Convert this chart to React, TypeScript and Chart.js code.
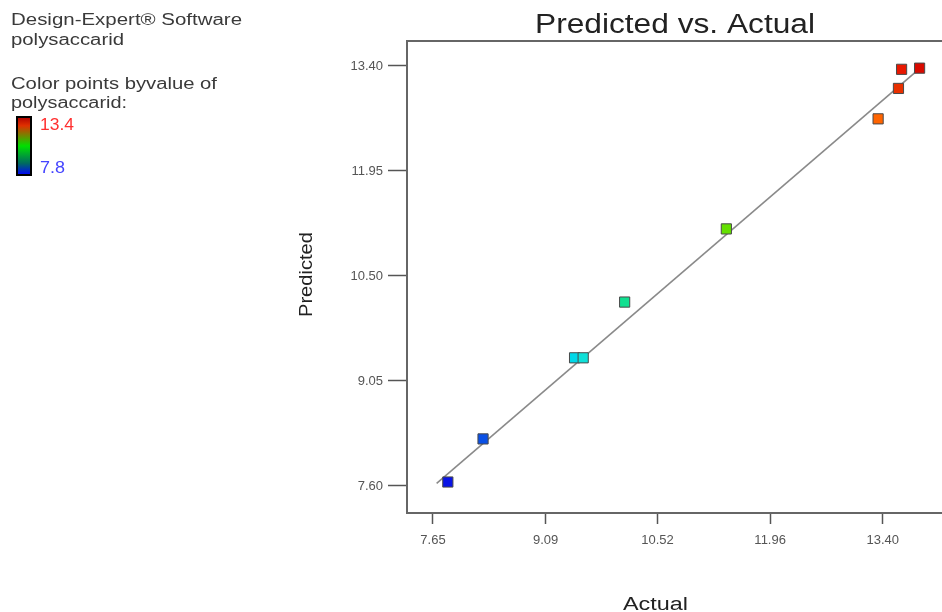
import React, { useEffect, useRef } from "react";
import { Chart, registerables } from "chart.js";

Chart.register(...registerables);

// Data
const actual = [7.84, 8.29, 9.46, 9.57, 10.10, 11.40, 13.34, 13.60, 13.64, 13.87];
const predicted = [7.655, 8.25, 9.37, 9.37, 10.14, 11.15, 12.67, 13.09, 13.354, 13.37];
const pointColors = [
  "#0a14e6", "#0a50e6", "#00d8e8", "#10e0d8", "#10e090",
  "#64e000", "#ff6400", "#e83000", "#e81800", "#d80a00",
];
const fitLineX = [7.697, 13.851];
const fitLineY = [7.637, 13.345];

const xTicks = [7.65, 9.09, 10.52, 11.96, 13.4];
const xTickLabels = ["7.65", "9.09", "10.52", "11.96", "13.40"];
const yTicks = [7.6, 9.05, 10.5, 11.95, 13.4];
const yTickLabels = ["7.60", "9.05", "10.50", "11.95", "13.40"];

const colorMax = "13.4";
const colorMin = "7.8";

const FONT = '"Liberation Sans", Arial, sans-serif';

function drawText(
  ctx: CanvasRenderingContext2D,
  text: string,
  x: number,
  y: number,
  size: number,
  color: string,
  width: number,
  rotate = 0
) {
  ctx.save();
  ctx.font = `${size}px ${FONT}`;
  ctx.fillStyle = color;
  ctx.textBaseline = "alphabetic";
  ctx.textAlign = "left";
  const w = ctx.measureText(text).width;
  ctx.translate(x, y);
  if (rotate) ctx.rotate(rotate);
  ctx.scale(width / w, 1);
  ctx.fillText(text, 0, 0);
  ctx.restore();
}

const decorPlugin = {
  id: "decor",
  afterDraw(chart: any) {
    const ctx: CanvasRenderingContext2D = chart.ctx;
    const a = chart.chartArea;
    // top frame line
    ctx.save();
    ctx.strokeStyle = "#666";
    ctx.lineWidth = 2;
    ctx.beginPath();
    ctx.moveTo(a.left - 1, a.top);
    ctx.lineTo(a.right + 10, a.top);
    ctx.stroke();
    ctx.restore();

    // title and axis titles
    drawText(ctx, "Predicted vs. Actual", 535, 33, 27, "#222", 280);
    drawText(ctx, "Actual", 623, 610, 18, "#222", 65);
    drawText(ctx, "Predicted", 312, 317, 18, "#222", 85, -Math.PI / 2);

    // left annotation
    drawText(ctx, "Design-Expert\u00AE Software", 11, 25, 16, "#3a3a3a", 231);
    drawText(ctx, "polysaccarid", 11, 45, 16, "#3a3a3a", 113);
    drawText(ctx, "Color points byvalue of", 11, 89, 16, "#3a3a3a", 206);
    drawText(ctx, "polysaccarid:", 11, 108, 16, "#3a3a3a", 116);
    drawText(ctx, colorMax, 40, 130, 17, "#ff3030", 34);
    drawText(ctx, colorMin, 40, 173, 17, "#4444ff", 25);

    // color bar
    ctx.save();
    const g = ctx.createLinearGradient(0, 117, 0, 175);
    g.addColorStop(0, "#b00000");
    g.addColorStop(0.15, "#e03000");
    g.addColorStop(0.5, "#00e000");
    g.addColorStop(0.8, "#006a60");
    g.addColorStop(1, "#0000ff");
    ctx.fillStyle = g;
    ctx.fillRect(17, 117, 14, 58);
    ctx.strokeStyle = "#000";
    ctx.lineWidth = 2;
    ctx.strokeRect(17, 117, 14, 58);
    ctx.restore();
  },
};

export default function App() {
  const ref = useRef<HTMLCanvasElement | null>(null);

  useEffect(() => {
    if (!ref.current) return;
    const chart = new Chart(ref.current, {
      type: "scatter",
      data: {
        datasets: [
          {
            label: "points",
            data: actual.map((x, i) => ({ x, y: predicted[i] })),
            pointStyle: "rect",
            pointRadius: 7.2,
            pointHoverRadius: 7.2,
            pointBackgroundColor: pointColors,
            pointBorderColor: "#4a4a4a",
            pointBorderWidth: 1,
          },
          {
            label: "fit",
            data: fitLineX.map((x, i) => ({ x, y: fitLineY[i] })),
            showLine: true,
            pointRadius: 0,
            borderColor: "#8a8a8a",
            borderWidth: 1.6,
          },
        ],
      },
      options: {
        animation: false,
        responsive: false,
        devicePixelRatio: 1,
        layout: { padding: { left: 0, right: 0, top: 41, bottom: 0 } },
        plugins: {
          legend: { display: false },
          tooltip: { enabled: false },
          title: { display: false },
        },
        scales: {
          x: {
            type: "linear",
            min: 7.318,
            max: 14.154,
            afterBuildTicks: (s: any) => {
              s.ticks = xTicks.map((v) => ({ value: v }));
            },
            afterFit: (s: any) => {
              s.height = 99;
              s.paddingLeft = 0;
              s.paddingRight = 0;
            },
            ticks: {
              autoSkip: false,
              maxRotation: 0,
              padding: 9,
              color: "#555",
              font: { family: FONT, size: 13 },
              callback: (v: any) => {
                const i = xTicks.findIndex((t) => Math.abs(t - v) < 1e-6);
                return i >= 0 ? xTickLabels[i] : "";
              },
            },
            grid: {
              drawOnChartArea: false,
              drawTicks: true,
              tickLength: 11,
              tickWidth: 1.5,
              tickColor: "#555",
            },
            border: { display: true, color: "#666", width: 2 },
          },
          y: {
            type: "linear",
            min: 7.227,
            max: 13.745,
            afterBuildTicks: (s: any) => {
              s.ticks = yTicks.map((v) => ({ value: v }));
            },
            afterFit: (s: any) => {
              s.width = 407;
              s.paddingTop = 0;
              s.paddingBottom = 0;
            },
            ticks: {
              autoSkip: false,
              padding: 5,
              color: "#555",
              font: { family: FONT, size: 13 },
              callback: (v: any) => {
                const i = yTicks.findIndex((t) => Math.abs(t - v) < 1e-6);
                return i >= 0 ? yTickLabels[i] : "";
              },
            },
            grid: {
              drawOnChartArea: false,
              drawTicks: true,
              tickLength: 19,
              tickWidth: 1.5,
              tickColor: "#555",
            },
            border: { display: true, color: "#666", width: 2 },
          },
        },
      },
      plugins: [decorPlugin],
    } as any);
    return () => chart.destroy();
  }, []);

  return (
    <div
      style={{
        position: "absolute",
        left: 0,
        top: 0,
        width: 942,
        height: 612,
        overflow: "hidden",
        background: "#fff",
      }}
    >
      <canvas ref={ref} width={950} height={612} style={{ width: 950, height: 612, display: "block" }} />
    </div>
  );
}
